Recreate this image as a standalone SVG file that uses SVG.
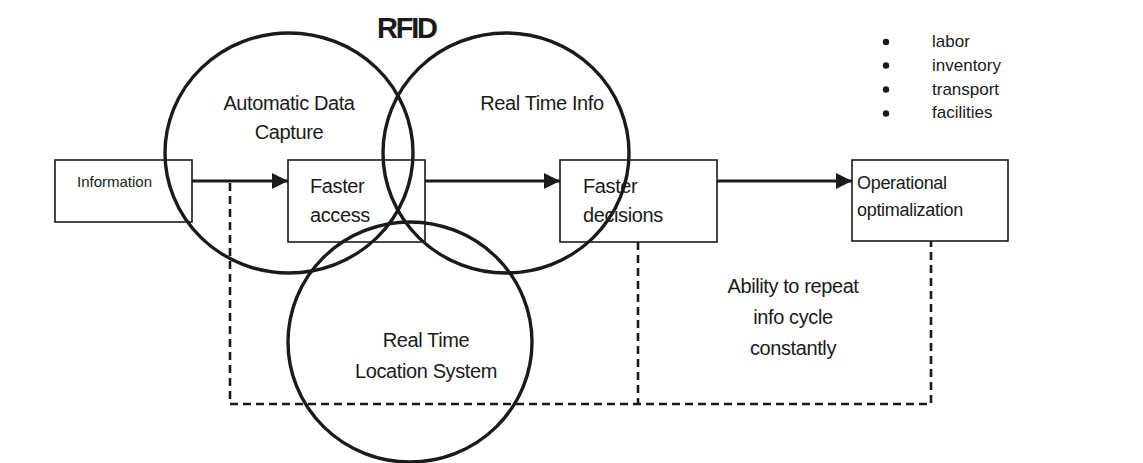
<svg xmlns="http://www.w3.org/2000/svg" width="1143" height="463" viewBox="0 0 1143 463">
  <defs>
    <marker id="ah" markerUnits="userSpaceOnUse" markerWidth="16" markerHeight="16" refX="16" refY="8" orient="auto">
      <path d="M0,0 L16,8 L0,16 Z" fill="#1a1a1a"/>
    </marker>
    <style>
      .box { fill: #ffffff; stroke: #1a1a1a; stroke-width: 1.6; }
      .ring { fill: none; stroke: #1a1a1a; stroke-width: 3.4; }
      .lbl { font-family: "Liberation Sans", Arial, sans-serif; font-size: 20px; fill: #1a1a1a; letter-spacing: -0.4px; }
      .sm { font-family: "Liberation Sans", Arial, sans-serif; font-size: 18px; fill: #1a1a1a; letter-spacing: -0.3px; }
      .bl { font-family: "Liberation Sans", Arial, sans-serif; font-size: 17px; fill: #1a1a1a; }
      .arrow { fill: none; stroke: #1a1a1a; stroke-width: 3; marker-end: url(#ah); }
      .dash { fill: none; stroke: #1a1a1a; stroke-width: 2.6; stroke-dasharray: 8 5; }
    </style>
  </defs>
  <rect width="1143" height="463" fill="#ffffff"/>

  <g id="connectors">
    <path class="dash" d="M230,183 V404 H931 V241"/>
    <path class="dash" d="M638,242 V404"/>
    <line class="arrow" x1="192" y1="181" x2="288" y2="181"/>
    <line class="arrow" x1="425" y1="181" x2="560" y2="181"/>
    <line class="arrow" x1="717" y1="181" x2="852" y2="181"/>
  </g>

  <g id="information">
    <rect class="box" x="55" y="160" width="137" height="62"/>
    <text class="sm" x="77" y="187" style="font-size:15px;letter-spacing:0">Information</text>
  </g>
  <g id="faster-access">
    <rect class="box" x="288" y="160" width="137" height="82"/>
    <text class="lbl" x="310" y="193">Faster</text>
    <text class="lbl" x="310" y="222">access</text>
  </g>
  <g id="faster-decisions">
    <rect class="box" x="560" y="160" width="157" height="82"/>
    <text class="lbl" x="583" y="193">Faster</text>
    <text class="lbl" x="583" y="222">decisions</text>
  </g>
  <g id="operational">
    <rect class="box" x="852" y="160" width="156" height="81"/>
    <text class="sm" x="857" y="189">Operational</text>
    <text class="sm" x="857" y="216">optimalization</text>
  </g>

  <g id="rfid-title">
    <text x="377" y="38" style="font-family:'Liberation Sans',Arial,sans-serif;font-size:29px;font-weight:bold;letter-spacing:-2.2px;fill:#1a1a1a">RFID</text>
  </g>
  <g id="automatic-data-capture">
    <ellipse class="ring" cx="289" cy="153" rx="124" ry="120"/>
    <text class="lbl" x="289" y="110" text-anchor="middle">Automatic Data</text>
    <text class="lbl" x="289" y="139" text-anchor="middle">Capture</text>
  </g>
  <g id="real-time-info">
    <ellipse class="ring" cx="506" cy="153" rx="123" ry="120"/>
    <text class="lbl" x="542" y="110" text-anchor="middle">Real Time Info</text>
  </g>
  <g id="real-time-location-system">
    <ellipse class="ring" cx="410" cy="342" rx="122" ry="120"/>
    <text class="lbl" x="426" y="347" text-anchor="middle">Real Time</text>
    <text class="lbl" x="426" y="378" text-anchor="middle">Location System</text>
  </g>

  <g id="cycle-label">
    <text class="lbl" x="793" y="293" text-anchor="middle">Ability to repeat</text>
    <text class="lbl" x="793" y="324" text-anchor="middle">info cycle</text>
    <text class="lbl" x="793" y="355" text-anchor="middle">constantly</text>
  </g>

  <g id="bullets">
    <circle cx="886" cy="42" r="3.2" fill="#1a1a1a"/>
    <circle cx="886" cy="65.5" r="3.2" fill="#1a1a1a"/>
    <circle cx="886" cy="89.5" r="3.2" fill="#1a1a1a"/>
    <circle cx="886" cy="113.5" r="3.2" fill="#1a1a1a"/>
    <text class="bl" x="932" y="47">labor</text>
    <text class="bl" x="932" y="71">inventory</text>
    <text class="bl" x="932" y="95">transport</text>
    <text class="bl" x="932" y="118">facilities</text>
  </g>
</svg>
